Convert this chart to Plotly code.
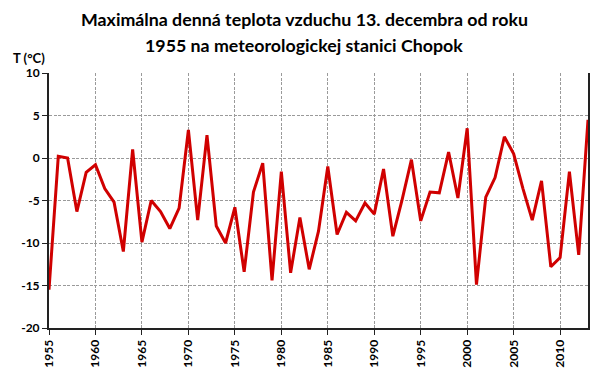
import plotly.graph_objects as go

years = list(range(1955, 2014))
temps = [-15.5, 0.2, 0.0, -6.3, -1.7, -0.8, -3.6, -5.2, -11.0, 1.0,
         -9.9, -5.0, -6.3, -8.3, -5.9, 3.3, -7.3, 2.7, -8.0, -10.0,
         -5.8, -13.4, -4.0, -0.6, -14.4, -1.6, -13.5, -7.0, -13.1, -8.6,
         -1.0, -9.0, -6.4, -7.4, -5.3, -6.6, -1.3, -9.2, -4.9, -0.2,
         -7.4, -4.0, -4.1, 0.7, -4.7, 3.5, -14.9, -4.6, -2.3, 2.5,
         0.5, -3.6, -7.3, -2.7, -12.8, -11.7, -1.6, -11.4, 4.5]
x_ticks = list(range(1955, 2014, 5))
y_ticks = [10, 5, 0, -5, -10, -15, -20]

title_lines = ["Maximálna denná teplota vzduchu 13. decembra od roku",
               "1955 na meteorologickej stanici Chopok"]
y_label = "T (°C)"

FONT = "Lato"

fig = go.Figure()
fig.add_trace(go.Scatter(x=years, y=temps, mode="lines",
                         line=dict(color="#D00000", width=3),
                         showlegend=False, hoverinfo="x+y"))

fig.update_layout(
    width=606, height=388,
    margin=dict(l=49, r=18, t=73, b=60, autoexpand=False),
    paper_bgcolor="white", plot_bgcolor="white",
    font=dict(family=FONT, color="black"),
)
fig.update_xaxes(range=[1955, 2013], tickvals=x_ticks, ticktext=[str(v) for v in x_ticks],
                 tickangle=-90, tickfont=dict(family=FONT, size=12, weight="bold"),
                 showgrid=True, gridcolor="#9a9a9a", griddash="3px,1.5px", gridwidth=1,
                 showline=True, linecolor="#222222", linewidth=2, automargin=False,
                 ticks="outside", ticklen=5, tickcolor="#222222", zeroline=False)
fig.update_yaxes(range=[-20, 10], tickvals=y_ticks, ticktext=[str(v) for v in y_ticks],
                 tickfont=dict(family=FONT, size=12, weight="bold"),
                 showgrid=True, gridcolor="#9a9a9a", griddash="3px,1.5px", gridwidth=1,
                 showline=True, linecolor="#222222", linewidth=2, mirror=True, automargin=False,
                 ticks="outside", ticklen=5, tickcolor="#222222", zeroline=False)

# title lines (centered at ~x=304px, y=18px and y=44px)
for line, ypx in zip(title_lines, [19, 45]):
    fig.add_annotation(text=line, xref="paper", yref="paper",
                       x=(304 - 49) / 539, y=1 + (73 - ypx) / 255,
                       xanchor="center", yanchor="middle", showarrow=False,
                       font=dict(family=FONT, size=17.8, color="black", weight="bold"))
fig.add_annotation(text=y_label, xref="paper", yref="paper", x=-0.07, y=1.02,
                   xanchor="left", yanchor="bottom", showarrow=False,
                   font=dict(family=FONT, size=13, color="black", weight="bold"))

fig.write_html("out.html", config={"displayModeBar": False},
               post_script="document.body.style.margin='0';")
